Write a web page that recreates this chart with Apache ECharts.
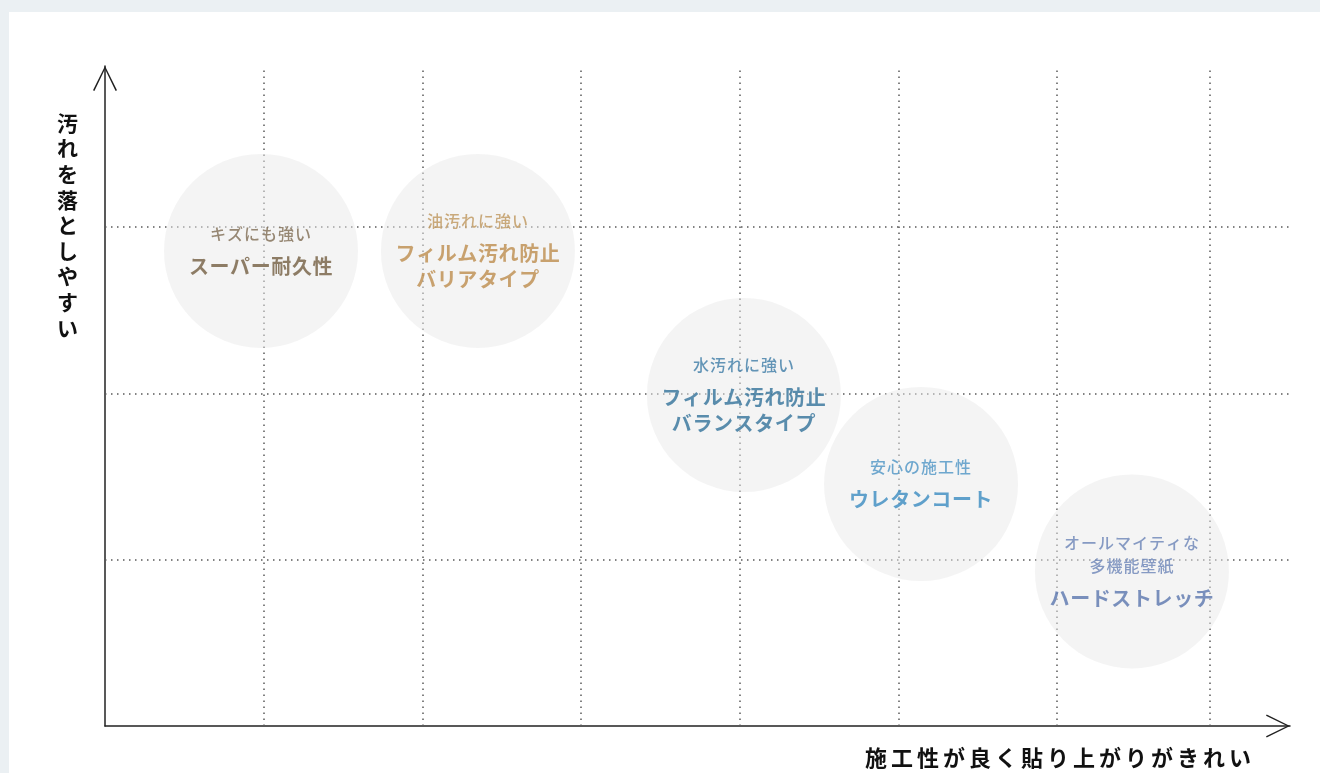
<!DOCTYPE html>
<html><head><meta charset="utf-8">
<script src="https://cdn.jsdelivr.net/npm/echarts@6/dist/echarts.min.js"></script>
<style>
html,body{margin:0;padding:0;background:#ebf0f3;width:1320px;height:773px;overflow:hidden}
#panel{position:absolute;left:9px;top:12px;width:1311px;height:761px;background:#ffffff}
#chart{width:1311px;height:761px}
</style></head><body>
<div id="panel"><div id="chart"></div></div>
<script>
// ---- data ----
const subLabels = [
  ['キズにも強い'],
  ['油汚れに強い'],
  ['水汚れに強い'],
  ['安心の施工性'],
  ['オールマイティな', '多機能壁紙']
];
const titleLabels = [
  ['スーパー耐久性'],
  ['フィルム汚れ防止', 'バリアタイプ'],
  ['フィルム汚れ防止', 'バランスタイプ'],
  ['ウレタンコート'],
  ['ハードストレッチ']
];
const xValues = [0.983, 2.35, 4.026, 5.142, 6.471];   // 施工性
const yValues = [2.856, 2.856, 1.99, 1.455, 0.929];   // 汚れの落としやすさ
const xGridLines = [1, 2, 3, 4, 5, 6, 6.957];
const yGridLines = [1, 2, 3];
const xAxisName = '施工性が良く貼り上がりがきれい';
const yAxisName = '汚れを落としやすい';

// ---- styles ----
const subColors = ['#7e6b52', '#be965c', '#3d7ca6', '#4c93c4', '#6a83b7'];
const titleColors = ['#735e41', '#bd8c4c', '#32729a', '#3a8bc0', '#5a76ae'];
const FONT = '"Noto Sans CJK JP", "Noto Sans CJK SC", sans-serif';

// letter spacing for canvas text by font size
(function () {
  const spacing = { 22: '4px', 20: '0.6px', 16: '1px' };
  const proto = CanvasRenderingContext2D.prototype;
  const orig = proto.fillText;
  proto.fillText = function (t, x, y, m) {
    const mm = /(\d+(?:\.\d+)?)px/.exec(this.font);
    const ls = mm && spacing[Math.round(parseFloat(mm[1]))];
    if ('letterSpacing' in this) this.letterSpacing = ls || '0px';
    return m === undefined ? orig.call(this, t, x, y) : orig.call(this, t, x, y, m);
  };
})();

const chevron = 'path://M12,0 L24,24.3 L22.6,25 L12,3 L1.4,25 L0,24.3 Z';
const noBorder = { textBorderWidth: 0, textBorderColor: 'transparent', textShadowBlur: 0 };

const data = xValues.map((x, i) => ({
  value: [x, yValues[i]],
  label: {
    formatter: subLabels[i].map(s => '{s|' + s + '}').join('\n') + '\n{g|\u00a0}\n' +
               titleLabels[i].map(t => '{t|' + t + '}').join('\n'),
    rich: {
      s: Object.assign({ fontSize: 16, lineHeight: 23, fontWeight: 500, color: subColors[i], fontFamily: FONT }, noBorder),
      g: Object.assign({ fontSize: 1, lineHeight: 8 }, noBorder),
      t: Object.assign({ fontSize: 20, lineHeight: 26, fontWeight: 'bold', color: titleColors[i], fontFamily: FONT }, noBorder)
    }
  }
}));

const dotted = { color: '#5a5a5a', width: 1.5, type: [1.5, 4.5] };

const chart = echarts.init(document.getElementById('chart'), null, { renderer: 'canvas' });
chart.setOption({
  animation: false,
  backgroundColor: '#ffffff',
  title: [
    {
      text: yAxisName.split('').join('\n'),
      left: 48, top: 98, padding: 0,
      textStyle: { fontSize: 21, fontWeight: 'bold', lineHeight: 25.6, color: '#111', fontFamily: FONT }
    },
    {
      text: xAxisName,
      left: 856, top: 733, padding: 0,
      textStyle: { fontSize: 22, fontWeight: 'bold', lineHeight: 26, color: '#111', fontFamily: FONT }
    }
  ],
  grid: { left: 96, right: 30, top: 54, bottom: 47 },
  xAxis: {
    type: 'value', min: 0, max: 7.467,
    axisLine: {
      show: true, symbol: ['none', chevron], symbolSize: [24, 24], symbolOffset: [0, -12],
      lineStyle: { color: '#222', width: 1.5 }
    },
    axisTick: { show: false }, axisLabel: { show: false }, splitLine: { show: false }
  },
  yAxis: {
    type: 'value', min: 0, max: 3.968,
    axisLine: {
      show: true, symbol: ['none', chevron], symbolSize: [24, 25], symbolOffset: [0, -12.5],
      lineStyle: { color: '#222', width: 1.5 }
    },
    axisTick: { show: false }, axisLabel: { show: false }, splitLine: { show: false }
  },
  series: [
    {
      type: 'line',
      z: 1,
      silent: true,
      data: [],
      markLine: {
        z: 1,
        silent: true,
        animation: false,
        symbol: ['none', 'none'],
        label: { show: false },
        lineStyle: dotted,
        emphasis: { disabled: true },
        data: xGridLines.map(v => ({ xAxis: v })).concat(yGridLines.map(v => ({ yAxis: v })))
      }
    },
    {
      type: 'scatter',
      z: 10,
      silent: true,
      symbol: 'circle',
      symbolSize: 194,
      itemStyle: { color: 'rgba(233,233,233,0.62)' },
      label: Object.assign({ show: true, position: 'inside', align: 'center', verticalAlign: 'middle', color: '#333' }, noBorder),
      emphasis: { disabled: true },
      data: data
    }
  ]
});
</script>
</body></html>
